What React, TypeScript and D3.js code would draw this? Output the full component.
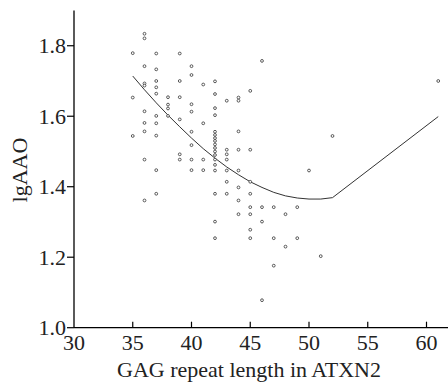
import React from 'react';
import * as d3 from 'd3';

// GAG repeat length (x) and the lgAAO values seen at each length
const repeatLengths = [35, 36, 37, 38, 39, 40, 41, 42, 43, 44, 45, 46, 47, 48, 49, 50, 51, 52, 61];
const lgAaoByLength = [
  [1.779, 1.653, 1.544],
  [1.834, 1.821, 1.742, 1.693, 1.687, 1.614, 1.581, 1.557, 1.477, 1.361],
  [1.778, 1.733, 1.700, 1.682, 1.664, 1.601, 1.580, 1.545, 1.447, 1.380],
  [1.654, 1.633, 1.622, 1.601],
  [1.778, 1.700, 1.654, 1.591, 1.492, 1.477],
  [1.742, 1.717, 1.634, 1.613, 1.556, 1.518, 1.477, 1.447],
  [1.690, 1.580, 1.477, 1.447],
  [1.699, 1.663, 1.623, 1.603, 1.556, 1.547, 1.538, 1.530, 1.520, 1.510, 1.500, 1.490, 1.477, 1.462, 1.446, 1.380, 1.301, 1.254],
  [1.644, 1.505, 1.492, 1.477, 1.446, 1.414, 1.380],
  [1.653, 1.644, 1.557, 1.505, 1.446, 1.398, 1.361, 1.322],
  [1.672, 1.505, 1.414, 1.380, 1.342, 1.322, 1.278, 1.254],
  [1.757, 1.342, 1.301, 1.078],
  [1.342, 1.254, 1.176],
  [1.322, 1.230],
  [1.342, 1.254],
  [1.446],
  [1.203],
  [1.544],
  [1.700],
];

// fitted line
const fitX = [35, 36, 37, 38, 39, 40, 41, 42, 43, 44, 45, 46, 47, 48, 49, 50, 51, 52, 61];
const fitY = [1.714, 1.675, 1.638, 1.603, 1.570, 1.538, 1.508, 1.481, 1.456, 1.434, 1.414, 1.398, 1.384, 1.374, 1.368, 1.365, 1.365, 1.369, 1.599];

const xTicks = [30, 35, 40, 45, 50, 55, 60];
const yTicks = [1.0, 1.2, 1.4, 1.6, 1.8];

const textStyle: React.CSSProperties = {
  fontFamily: "'Liberation Serif', 'DejaVu Serif', serif",
  fontSize: 22,
  fill: '#222',
};

export default function App() {
  const width = 448;
  const height = 384;

  const x = d3.scaleLinear().domain([30, 62]).range([74, 450]);
  const y = d3.scaleLinear().domain([1.0, 1.9]).range([327.7, 10.5]);

  const points: { gx: number; gy: number }[] = [];
  repeatLengths.forEach((len, i) => {
    lgAaoByLength[i].forEach(v => points.push({ gx: len, gy: v }));
  });

  const line = d3.line<number>()
    .x((d, i) => x(fitX[i]))
    .y(d => y(d));

  return (
    <svg width={width} height={height} style={{ position: 'absolute', left: 0, top: 0, background: '#fff' }}>
      {/* fit line */}
      <path d={line(fitY) || ''} fill="none" stroke="#333" strokeWidth={1} />

      {/* points */}
      {points.map((p, i) => (
        <circle key={i} cx={x(p.gx)} cy={y(p.gy)} r={1.4} fill="#fff" stroke="#333" strokeWidth={0.8} />
      ))}

      {/* axes */}
      <line x1={x(30)} x2={x(30)} y1={y(1.9)} y2={y(1.0)} stroke="#000" strokeWidth={1.3} />
      <line x1={x(30)} x2={width} y1={y(1.0)} y2={y(1.0)} stroke="#000" strokeWidth={1.3} />

      {yTicks.map(t => (
        <g key={'y' + t}>
          <line x1={x(30) - 7} x2={x(30)} y1={y(t)} y2={y(t)} stroke="#000" strokeWidth={1.2} />
          <text x={66} y={y(t)} dy="0.35em" textAnchor="end" style={textStyle}>
            {t.toFixed(1)}
          </text>
        </g>
      ))}

      {xTicks.map(t => (
        <g key={'x' + t}>
          {t > 30 && <line x1={x(t)} x2={x(t)} y1={y(1.0) - 6} y2={y(1.0)} stroke="#000" strokeWidth={1.2} />}
          <text x={x(t)} y={350} textAnchor="middle" style={textStyle}>
            {t}
          </text>
        </g>
      ))}

      <text x={249} y={377} textAnchor="middle" style={textStyle}>
        GAG repeat length in ATXN2
      </text>
      <text transform="translate(27,170) rotate(-90)" textAnchor="middle" style={textStyle}>
        lgAAO
      </text>
    </svg>
  );
}
